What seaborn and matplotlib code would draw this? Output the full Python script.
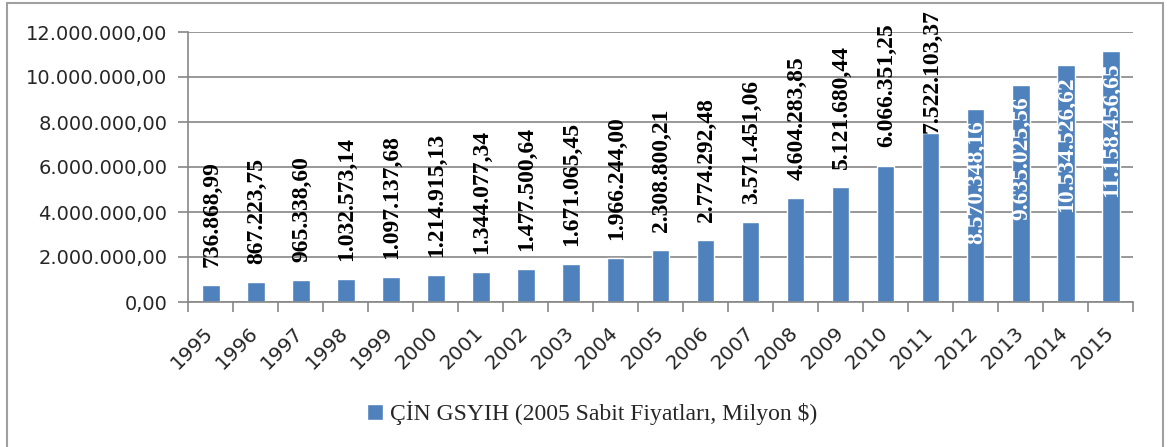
import matplotlib
matplotlib.use("Agg")
import matplotlib.pyplot as plt
from matplotlib.patches import Rectangle
from matplotlib.ticker import FixedLocator
import numpy as np
import pandas as pd
import seaborn as sns

years = [str(y) for y in range(1995, 2016)]
gdp = [736868.99, 867223.75, 965338.60, 1032573.14, 1097137.68, 1214915.13,
       1344077.34, 1477500.64, 1671065.45, 1966244.00, 2308800.21, 2774292.48,
       3571451.06, 4604283.85, 5121680.44, 6066351.25, 7522103.37, 8570348.16,
       9635025.56, 10534526.62, 11158456.65]
series_name = "ÇİN GSYIH (2005 Sabit Fiyatları, Milyon $)"
yticks = [0, 2e6, 4e6, 6e6, 8e6, 10e6, 12e6]

df = pd.DataFrame({"Yil": years, "GSYIH": gdp})

BLUE = "#4F81BD"
GRAY = "#868686"


def tr_fmt(v):
    # Türkçe sayı biçimi: binlik nokta, ondalık virgül
    s = f"{v:,.2f}"
    return s.replace(",", "X").replace(".", ",").replace("X", ".")


sns.set_style("white")
plt.rcParams["font.family"] = ["DejaVu Sans"]

fig = plt.figure(figsize=(11.69, 4.47), dpi=100)
ax = fig.add_axes([188 / 1169, 1 - 302 / 447, (1133 - 188) / 1169, (302 - 32) / 447])

sns.barplot(data=df, x="Yil", y="GSYIH", color=BLUE, width=0.4,
            saturation=1, ax=ax, label=series_name)

ax.set_ylim(0, 12e6)
ax.set_xlim(-0.5, len(years) - 0.5)
ax.set_yticks(yticks)
ax.set_yticklabels([tr_fmt(t) for t in yticks], fontsize=14)
ax.yaxis.grid(True, color=GRAY, lw=1.2)
ax.set_axisbelow(True)
ax.set_xlabel("")
ax.set_ylabel("")

# kategori sınırlarında x tikleri
ax.xaxis.set_minor_locator(FixedLocator(np.arange(-0.5, len(years), 1)))
ax.tick_params(axis="x", which="major", length=0, pad=20)
ax.tick_params(axis="x", which="minor", length=7, width=1.2, color=GRAY, direction="out", bottom=True)
ax.tick_params(axis="y", length=7, width=1.2, color=GRAY, direction="out", left=True, pad=8)
ax.set_xticks(range(len(years)))
ax.set_xticklabels(years, rotation=45, ha="right", va="center",
                   rotation_mode="anchor", fontsize=14.5)

for side in ["top", "right"]:
    ax.spines[side].set_visible(False)
for side in ["left", "bottom"]:
    ax.spines[side].set_color(GRAY)
    ax.spines[side].set_linewidth(1.2)

# veri etiketleri
for i, v in enumerate(gdp):
    if v < 7e6:
        ax.annotate(tr_fmt(v), (i, v), xytext=(1, 13), textcoords="offset points",
                    rotation=90, ha="center", va="bottom", fontsize=17,
                    fontweight="bold", family="Liberation Serif", color="black")
    elif v < 8e6:
        ax.annotate(tr_fmt(v), (i, v), xytext=(1, 0), textcoords="offset points",
                    rotation=90, ha="center", va="bottom", fontsize=17,
                    fontweight="bold", family="Liberation Serif", color="black")
    else:
        ax.annotate(tr_fmt(v), (i, v), xytext=(1, -8), textcoords="offset points",
                    rotation=90, ha="center", va="top", fontsize=17,
                    fontweight="bold", family="Liberation Serif", color="white")

leg = ax.legend(loc="center", frameon=False,
                prop={"family": "Liberation Serif", "size": 17},
                handlelength=0.65, handleheight=0.65, handletextpad=0.3)
leg.set_bbox_to_anchor((592 / 1169, 1 - 413 / 447), transform=fig.transFigure)

fig.patches.append(Rectangle((7 / 1169, -0.05), (1163 - 7) / 1169, 1.05 - 3 / 447,
                             transform=fig.transFigure, fill=False,
                             edgecolor="#A0A0A0", lw=1.5))

fig.savefig("out.png", dpi=100)
